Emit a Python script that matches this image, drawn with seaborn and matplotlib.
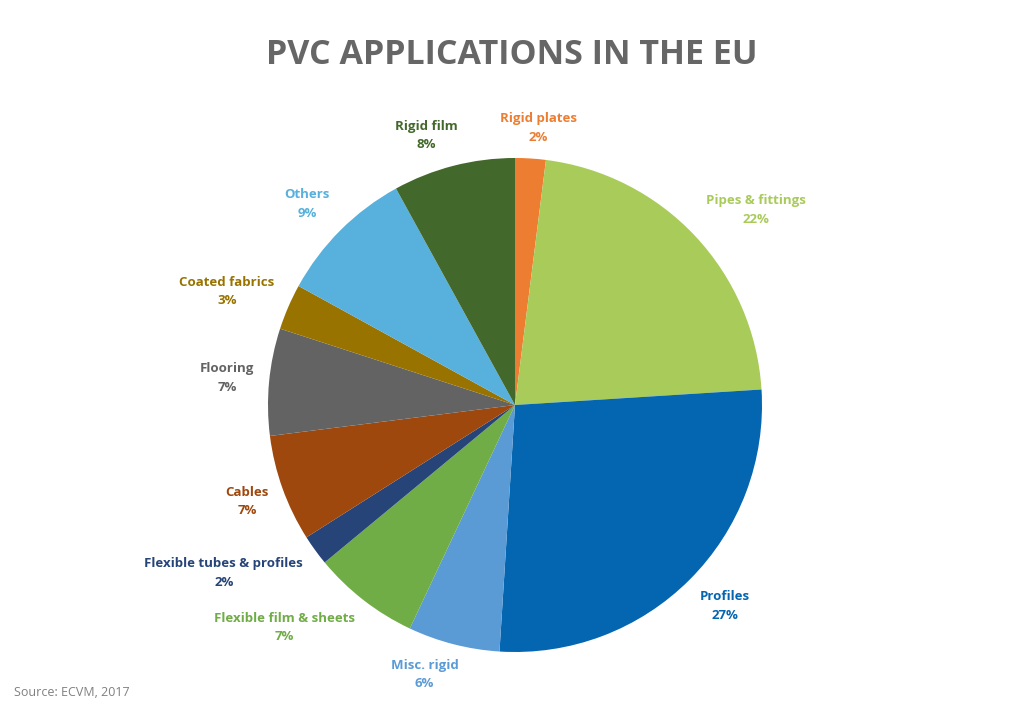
import numpy as np
import matplotlib
matplotlib.use("Agg")
import matplotlib.pyplot as plt
import seaborn as sns

# Data (clockwise from 12 o'clock)
categories = ["Rigid plates", "Pipes & fittings", "Profiles", "Misc. rigid",
              "Flexible film & sheets", "Flexible tubes & profiles", "Cables",
              "Flooring", "Coated fabrics", "Others", "Rigid film"]
shares = [2, 22, 27, 6, 7, 2, 7, 7, 3, 9, 8]
colors = ["#ED7D31", "#A9CB5A", "#0465B1", "#5B9BD5", "#70AD47", "#264478",
          "#9E480E", "#636363", "#997300", "#57B1DC", "#43682B"]

sns.set_theme(style="white")
plt.rcParams["font.family"] = ["Open Sans", "DejaVu Sans"]

fig = plt.figure(figsize=(10.24, 7.10), dpi=100)
fig.patch.set_facecolor("white")
ax = fig.add_axes([0, 0, 1, 1])

wedges, _ = ax.pie(shares, colors=colors, startangle=90, counterclock=False,
                   wedgeprops=dict(linewidth=0))

# one data unit == pie radius (247 px), centre at (515, 405) px from top-left
R = 247.0
ax.set_xlim(-515 / R, (1024 - 515) / R)
ax.set_ylim(-(710 - 405) / R, 405 / R)
ax.set_aspect("auto")
ax.axis("off")

# labels: the box edge nearest the pie sits just off the rim
fig.canvas.draw()
renderer = fig.canvas.get_renderer()
for w, name, val, col in zip(wedges, categories, shares, colors):
    ang = np.deg2rad((w.theta1 + w.theta2) / 2)
    ux, uy = np.cos(ang), np.sin(ang)
    t = ax.text(0, 0, f"{name}\n{val}%", ha="center", va="center",
                color=col, fontsize=9.5, fontweight="bold", linespacing=1.55)
    bb = t.get_window_extent(renderer)
    hw, hh = bb.width / 2 / R, bb.height / 2 / R
    d = 1.06
    ox = np.sign(ux) * min(1, 3 * abs(ux)) * hw
    oy = np.sign(uy) * min(1, 1.5 * abs(uy)) * hh
    t.set_position((d * ux + ox, d * uy + oy))

fig.text(0.5, 0.922, "PVC APPLICATIONS IN THE EU", ha="center", va="center",
         fontsize=24.5, fontweight="bold", color="#666666")
fig.text(0.014, 0.025, "Source: ECVM, 2017", ha="left", va="center",
         fontsize=9, color="#808080")

fig.savefig("out.png", dpi=100, facecolor="white")
